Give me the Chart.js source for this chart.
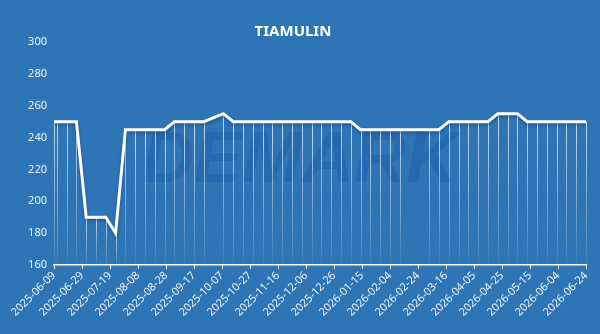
<!DOCTYPE html>
<html>
<head>
<meta charset="utf-8">
<script src="https://cdn.jsdelivr.net/npm/chart.js@4"></script>
<style>
    html, body { margin: 0; padding: 0; background: #2e75b6; }
    #wrap { width: 600px; height: 334px; }
</style>
</head>
<body>
<div id="wrap"><canvas id="myChart-tiamulin" width="600" height="334"></canvas></div>
<script>
// weekly quotes, a few holiday weeks have no price
const dates = [
    '2025-06-09', '2025-06-11', '2025-06-18', '2025-06-25', '2025-07-02', '2025-07-09',
    '2025-07-16', '2025-07-23', '2025-07-30', '2025-08-06', '2025-08-13', '2025-08-20',
    '2025-08-27', '2025-09-03', '2025-09-10', '2025-09-17', '2025-09-24', '2025-10-08',
    '2025-10-15', '2025-10-22', '2025-10-29', '2025-11-05', '2025-11-12', '2025-11-19',
    '2025-11-26', '2025-12-03', '2025-12-10', '2025-12-17', '2025-12-24', '2025-12-31',
    '2026-01-07', '2026-01-14', '2026-01-21', '2026-01-28', '2026-02-04', '2026-02-11',
    '2026-03-04', '2026-03-11', '2026-03-18', '2026-03-25', '2026-04-01', '2026-04-08',
    '2026-04-15', '2026-04-22', '2026-04-29', '2026-05-06', '2026-05-13', '2026-05-20',
    '2026-05-27', '2026-06-03', '2026-06-10', '2026-06-17', '2026-06-24'
];
const prices = [
    250, 250, 250, 250, 190, 190,
    190, 180, 245, 245, 245, 245,
    245, 250, 250, 250, 250, 255,
    250, 250, 250, 250, 250, 250,
    250, 250, 250, 250, 250, 250,
    250, 245, 245, 245, 245, 245,
    245, 245, 250, 250, 250, 250,
    250, 255, 255, 255, 250, 250,
    250, 250, 250, 250, 250
];
const axisStart = '2025-06-09';
const axisEnd = '2026-06-24';
const tickStepDays = 20;
const yTicks = [160, 180, 200, 220, 240, 260, 280, 300];

const DAY = 86400000;
const toDay = (s) => (Date.parse(s) - Date.parse(axisStart)) / DAY;
const dayLabel = (d) => new Date(Date.parse(axisStart) + d * DAY).toISOString().slice(0, 10);

// faint vertical lines under every point + watermark
const dropLines = {
    id: 'dropLines',
    beforeDatasetsDraw(chart) {
        const { ctx, chartArea } = chart;
        ctx.save();
        ctx.font = 'italic bold 72px "Liberation Sans"';
        ctx.fillStyle = 'rgba(25, 90, 170, 0.4)';
        ctx.textAlign = 'center';
        ctx.textBaseline = 'middle';
        ctx.fillText('DEMARK', 300, 162);

        const meta = chart.getDatasetMeta(0);
        meta.data.forEach(pt => {
            const x = Math.round(pt.x) + 0.5;
            const g = ctx.createLinearGradient(0, pt.y, 0, chartArea.bottom);
            g.addColorStop(0, 'rgba(255,255,255,0.75)');
            g.addColorStop(0.6, 'rgba(255,255,255,0.35)');
            g.addColorStop(1, 'rgba(255,255,255,0.05)');
            ctx.strokeStyle = g;
            ctx.lineWidth = 1;
            ctx.beginPath();
            ctx.moveTo(x, pt.y);
            ctx.lineTo(x, chartArea.bottom);
            ctx.stroke();
        });
        ctx.restore();
    },
    beforeDatasetDraw(chart) {
        const ctx = chart.ctx;
        ctx.save();
        ctx.shadowColor = 'rgba(20, 40, 80, 0.45)';
        ctx.shadowBlur = 3;
        ctx.shadowOffsetY = 2;
    },
    afterDatasetDraw(chart) {
        chart.ctx.restore();
    }
};

const drawChart = () => {
    const points = dates.map((d, i) => ({ x: toDay(d), y: prices[i] }));

    const config = {
        type: 'line',
        data: {
            datasets: [{
                label: 'TIAMULIN',
                data: points,
                borderColor: '#ffffff',
                borderWidth: 3,
                pointRadius: 0,
                tension: 0,
                fill: false
            }]
        },
        options: {
            responsive: false,
            animation: false,
            devicePixelRatio: 1,
            layout: { padding: { left: 0, right: 14, top: 0, bottom: 15 } },
            plugins: {
                legend: { display: false },
                tooltip: { enabled: false },
                title: {
                    display: true,
                    text: 'TIAMULIN',
                    color: '#ffffff',
                    font: { family: 'Noto Sans', size: 15, weight: 'bold' },
                    padding: { top: 23, bottom: 1 }
                }
            },
            scales: {
                x: {
                    type: 'linear',
                    min: 0,
                    max: toDay(axisEnd),
                    afterBuildTicks: (scale) => {
                        const t = [];
                        for (let d = 0; d <= toDay(axisEnd); d += tickStepDays) t.push({ value: d });
                        scale.ticks = t;
                    },
                    ticks: {
                        autoSkip: false,
                        maxRotation: 45,
                        minRotation: 45,
                        color: '#eef3f9',
                        font: { family: 'Noto Sans', size: 11 },
                        padding: 0,
                        callback: (v) => dayLabel(v)
                    },
                    grid: { display: true, drawOnChartArea: false, color: '#ffffff', tickLength: 4 },
                    border: { color: '#ffffff', width: 1.5 }
                },
                y: {
                    min: 160,
                    max: 300,
                    afterBuildTicks: (scale) => { scale.ticks = yTicks.map(v => ({ value: v })); },
                    afterFit: (scale) => { scale.width = 54; },
                    ticks: {
                        color: '#eef3f9',
                        font: { family: 'Noto Sans', size: 11 },
                        padding: 7
                    },
                    grid: { display: false, drawTicks: false },
                    border: { display: false }
                }
            }
        },
        plugins: [dropLines]
    };

    const ctx = document.getElementById('myChart-tiamulin').getContext('2d');
    new Chart(ctx, config);
};

document.addEventListener('DOMContentLoaded', drawChart);
</script>
</body>
</html>
